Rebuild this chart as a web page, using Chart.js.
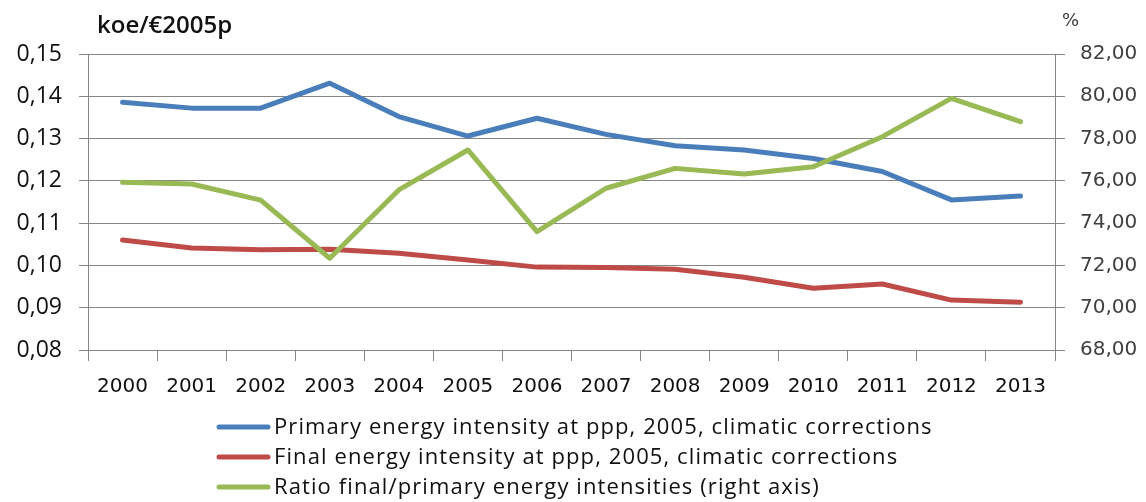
<!DOCTYPE html>
<html>
<head>
<meta charset="utf-8">
<script src="https://cdn.jsdelivr.net/npm/chart.js@4/dist/chart.umd.min.js"></script>
<style>
  html, body { margin: 0; padding: 0; background: #fff; }
  #wrap { width: 1146px; height: 502px; }
</style>
</head>
<body>
<div id="wrap"><canvas id="energyChart" width="1146" height="502"></canvas></div>
<script>
"use strict";
// values
var years = ['2000', '2001', '2002', '2003', '2004', '2005', '2006', '2007', '2008', '2009', '2010', '2011', '2012', '2013'];
var primaryIntensity = [0.1386, 0.1372, 0.1372, 0.1431, 0.1352, 0.1306, 0.1348, 0.1310, 0.1283, 0.1273, 0.1253, 0.1222, 0.1155, 0.1164];
var finalIntensity = [0.1060, 0.1041, 0.1037, 0.1038, 0.1029, 0.1013, 0.0996, 0.0995, 0.0991, 0.0972, 0.0946, 0.0956, 0.0918, 0.0913];
var ratioFinalPrimary = [75.93, 75.85, 75.09, 72.34, 75.57, 77.46, 73.60, 75.65, 76.59, 76.32, 76.67, 78.09, 79.90, 78.80];

var seriesLabels = [
  'Primary energy intensity at ppp, 2005, climatic corrections',
  'Final energy intensity at ppp, 2005, climatic corrections',
  'Ratio final/primary energy intensities (right axis)'
];
var leftUnit = 'koe/€2005p';
var rightUnit = '%';

var gridGrey = '#858585';

function commaNum(v) {
  return Number(v).toFixed(2).replace('.', ',');
}

// title units + legend drawn by hand, chart.js legend can't left align rows like excel
var extrasPlugin = {
  id: 'extras',
  beforeDraw(chart) {
    var c = chart.ctx;
    c.save();
    c.fillStyle = '#fff';
    c.fillRect(0, 0, chart.width, chart.height);
    c.restore();
  },
  afterDraw(chart) {
    var c = chart.ctx;
    c.save();
    c.fillStyle = '#111';
    c.textBaseline = 'alphabetic';
    c.font = '600 24px "Open Sans"';
    c.fillText(leftUnit, 97, 33);
    c.fillStyle = '#404040';
    c.font = '18px "DejaVu Sans"';
    c.fillText(rightUnit, 1062, 26);

    c.font = '22px "Open Sans"';
    c.letterSpacing = '1.1px';
    c.textBaseline = 'middle';
    chart.data.datasets.forEach((ds, i) => {
      var y = 427 + i * 30;
      c.strokeStyle = ds.borderColor;
      c.lineWidth = 5;
      c.lineCap = 'round';
      c.beginPath();
      c.moveTo(219, y);
      c.lineTo(268, y);
      c.stroke();
      c.fillStyle = '#111';
      c.fillText(ds.label, 274, y + 1);
    });
    c.restore();
  }
};

var energyChart = new Chart(document.getElementById('energyChart').getContext('2d'), {
  type: 'line',
  data: {
    labels: years,
    datasets: [{
      label: seriesLabels[0],
      data: primaryIntensity,
      borderColor: '#4a7ebb',
      yAxisID: 'y',
      order: 2
    }, {
      label: seriesLabels[1],
      data: finalIntensity,
      borderColor: '#be4b48',
      yAxisID: 'y',
      order: 1
    }, {
      label: seriesLabels[2],
      data: ratioFinalPrimary,
      borderColor: '#98b954',
      yAxisID: 'y1',
      order: 0
    }]
  },
  options: {
    responsive: false,
    animation: false,
    layout: { padding: { top: 54, left: 0, right: 0, bottom: 0 } },
    elements: {
      line: { borderWidth: 5, tension: 0, borderJoinStyle: 'round', borderCapStyle: 'round', fill: false },
      point: { radius: 0, hoverRadius: 0 }
    },
    plugins: {
      legend: { display: false },
      tooltip: { enabled: false }
    },
    scales: {
      x: {
        offset: true,
        afterFit: (s) => { s.height = 152; },
        grid: { offset: true, drawOnChartArea: false, drawTicks: true, tickLength: 11, color: gridGrey, lineWidth: 1 },
        border: { color: gridGrey, width: 1 },
        ticks: { color: '#111', padding: 14, font: { family: 'DejaVu Sans', size: 20 }, maxRotation: 0, autoSkip: false }
      },
      y: {
        position: 'left',
        min: 0.08,
        max: 0.15,
        afterFit: (s) => { s.width = 88; },
        grid: { color: gridGrey, lineWidth: 1, tickLength: 9, tickColor: gridGrey },
        border: { color: gridGrey, width: 1 },
        ticks: {
          stepSize: 0.01,
          padding: 17,
          color: '#111',
          font: { family: 'Open Sans', size: 23 },
          callback: (v) => commaNum(v)
        }
      },
      y1: {
        position: 'right',
        min: 68,
        max: 82,
        afterFit: (s) => { s.width = 91; },
        grid: { drawOnChartArea: false, tickLength: 10, tickColor: gridGrey },
        border: { color: gridGrey, width: 1 },
        ticks: {
          stepSize: 2,
          padding: 15,
          color: '#404040',
          font: { family: 'DejaVu Sans', size: 20 },
          callback: (v) => commaNum(v)
        }
      }
    }
  },
  plugins: [extrasPlugin]
});
</script>
</body>
</html>
